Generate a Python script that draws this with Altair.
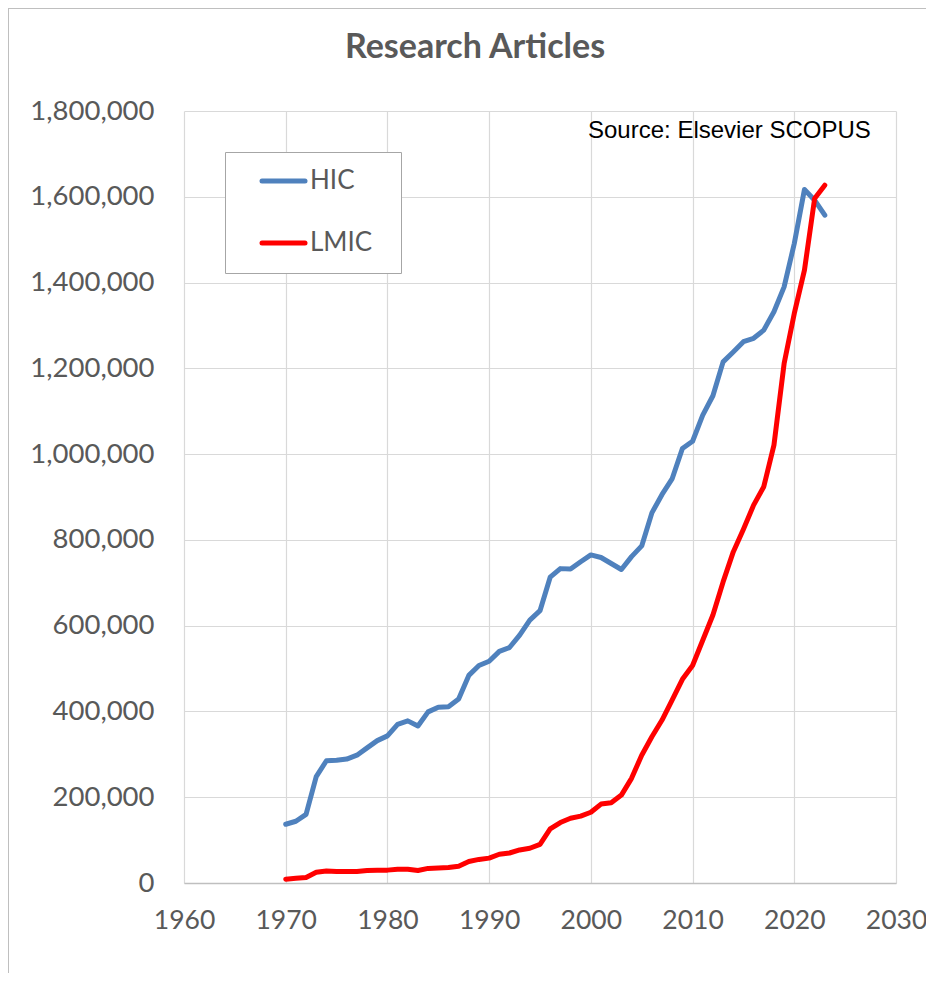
import altair as alt
import pandas as pd

years = list(range(1970, 2024))
hic = [137000, 144000, 160000, 248000, 285000, 286000, 289000, 298000, 315000, 332000,
       343000, 370000, 378000, 366000, 399000, 410000, 411000, 429000, 484000, 507000,
       517000, 540000, 549000, 578000, 613000, 635000, 713000, 733000, 732000, 749000,
       765000, 759000, 745000, 731000, 761000, 786000, 863000, 906000, 943000, 1013000,
       1030000, 1091000, 1136000, 1215000, 1238000, 1262000, 1270000, 1289000, 1332000, 1390000,
       1491000, 1617000, 1592000, 1557000]
lmic = [9000, 11000, 13000, 25000, 28000, 27000, 27000, 27000, 29000, 30000,
        30000, 32000, 32000, 29000, 34000, 35000, 36000, 39000, 50000, 55000,
        58000, 67000, 70000, 77000, 81000, 90000, 126000, 141000, 151000, 156000,
        165000, 184000, 187000, 205000, 244000, 298000, 341000, 380000, 427000, 475000,
        507000, 566000, 625000, 702000, 772000, 825000, 881000, 924000, 1021000, 1211000,
        1328000, 1429000, 1596000, 1627000]
series_names = ["HIC", "LMIC"]
series_colors = ["#4F81BD", "#FF0000"]
x_ticks = [1960, 1970, 1980, 1990, 2000, 2010, 2020, 2030]
y_ticks = [0, 200000, 400000, 600000, 800000, 1000000, 1200000, 1400000, 1600000, 1800000]
title_text = "Research Articles"
source_text = "Source: Elsevier SCOPUS"

df = pd.DataFrame({
    "year": years * 2,
    "value": hic + lmic,
    "series": ["HIC"] * len(years) + ["LMIC"] * len(years),
})

W, H = 712, 772
PAD_L, PAD_T, PAD_R, PAD_B = 176, 103, 30, 90
FONT = "Lato"
GRAY = "#595959"

color = alt.Color("series:N", scale=alt.Scale(domain=series_names, range=series_colors), legend=None)
x = alt.X("year:Q", scale=alt.Scale(domain=[1960, 2030], nice=False, zero=False),
          axis=alt.Axis(values=x_ticks, format="d", title=None, labelPadding=24,
                        labelFlush=False, labelOverlap=False, labelFontSize=26.5,
                        domain=True, domainColor="#BFBFBF", domainWidth=1.5))
y = alt.Y("value:Q", scale=alt.Scale(domain=[0, 1800000], nice=False),
          axis=alt.Axis(values=y_ticks, format=",d", title=None, labelPadding=30,
                        labelFlush=False, labelOverlap=False, domain=False))

layers = []

one = pd.DataFrame({"k": [0]})
# outer frame: left and top edges (kept inside the svg)
layers.append(alt.Chart(one).mark_rule(stroke="#BFBFBF", strokeWidth=1)
              .encode(x=alt.value(-PAD_L + 0.5), y=alt.value(-PAD_T), y2=alt.value(H + PAD_B)))
layers.append(alt.Chart(one).mark_rule(stroke="#BFBFBF", strokeWidth=1)
              .encode(x=alt.value(-PAD_L), x2=alt.value(W + PAD_R), y=alt.value(-PAD_T + 0.5)))

for s in series_names:
    layers.append(
        alt.Chart(df).transform_filter(alt.datum.series == s)
        .mark_line(strokeWidth=5, strokeJoin="round", strokeCap="round")
        .encode(x=x, y=y, color=color)
    )

# legend box
box = alt.Chart(one).mark_rect(
    fill="white", stroke="#A6A6A6", strokeWidth=1
).encode(x=alt.value(41.5), x2=alt.value(217.5), y=alt.value(41.5), y2=alt.value(162.5))
layers.append(box)

for i, s in enumerate(series_names):
    ldf = pd.DataFrame({"series": [s]})
    yy = 70 + 62 * i
    layers.append(
        alt.Chart(ldf).mark_rule(strokeWidth=5, strokeCap="round")
        .encode(x=alt.value(78), x2=alt.value(121), y=alt.value(yy), color=color)
    )
    layers.append(
        alt.Chart(ldf).mark_text(align="left", baseline="middle", font=FONT, fontSize=26, color=GRAY)
        .encode(x=alt.value(126), y=alt.value(yy), text="series:N")
    )

layers.append(
    alt.Chart(pd.DataFrame({"t": [title_text]})).mark_text(
        align="center", baseline="middle", font=FONT, fontSize=34, fontWeight="bold", color=GRAY
    ).encode(x=alt.value(291), y=alt.value(-63), text="t:N")
)
layers.append(
    alt.Chart(pd.DataFrame({"t": [source_text]})).mark_text(
        align="left", baseline="middle", font="Liberation Sans", fontSize=24, color="black"
    ).encode(x=alt.value(404), y=alt.value(20), text="t:N")
)

chart = alt.layer(*layers).properties(
    width=W, height=H,
    autosize=alt.AutoSizeParams(type="none"),
    padding={"left": PAD_L, "top": PAD_T, "right": PAD_R, "bottom": PAD_B},
).configure_view(stroke=None).configure_axis(
    labelFont=FONT, labelFontSize=27.5, labelColor=GRAY,
    gridColor="#D9D9D9", gridWidth=1.2, ticks=False,
)

chart.save("out.html", embed_options={"renderer": "svg", "actions": False})
